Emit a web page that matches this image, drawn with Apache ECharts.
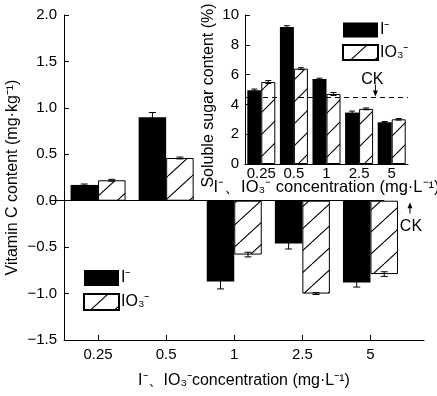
<!DOCTYPE html>
<html><head><meta charset="utf-8">
<script src="https://cdn.jsdelivr.net/npm/echarts@6/dist/echarts.min.js"></script>
<style>html,body{margin:0;padding:0;background:#fff}#c{width:437px;height:396px}</style>
</head><body><div id="c"></div>
<script>
// ---- data ----
const categories = ['0.25', '0.5', '1', '2.5', '5'];
const vcIodide = [0.17, 0.90, -0.87, -0.46, -0.88];
const vcIodideErr = [0.01, 0.05, 0.08, 0.06, 0.05];
const vcIodate = [0.22, 0.46, -0.58, -1.00, -0.79];
const vcIodateErr = [0.01, 0.01, 0.025, 0.01, 0.025];
const sugarIodide = [4.95, 9.2, 5.7, 3.45, 2.8];
const sugarIodideErr = [0.08, 0.08, 0.06, 0.1, 0.05];
const sugarIodate = [5.5, 6.4, 4.7, 3.7, 3.0];
const sugarIodateErr = [0.1, 0.06, 0.1, 0.06, 0.05];
const sugarCK = 4.46;
const vcCK = 0;
const seriesNames = ['I\u207B', 'IO\u2083\u207B'];

const FONT = '"Liberation Sans", Arial, Helvetica, sans-serif';

function hatch(w, h) {
  const c = document.createElement('canvas');
  c.width = w; c.height = h;
  const g = c.getContext('2d');
  g.fillStyle = '#fff'; g.fillRect(0, 0, w, h);
  g.strokeStyle = '#000'; g.lineWidth = 1.1;
  g.beginPath();
  for (let k = 0; k <= 2; k++) {
    g.moveTo((k - 1) * w, h); g.lineTo(k * w, 0);
  }
  g.stroke();
  return { image: c, repeat: 'repeat' };
}
const hatchMain = hatch(24, 22);
const hatchInset = hatch(22, 22);

function errBars(ai, vals, errs, dir, halfW, cap) {
  return {
    type: 'custom', xAxisIndex: ai, yAxisIndex: ai, z: 5, silent: true,
    data: vals.map((v, i) => [i, v, errs[i]]),
    encode: { x: 0, y: 1 },
    renderItem: function (p, api) {
      const i = api.value(0), v = api.value(1), e = api.value(2);
      const t = api.coord([i, v + e]), b = api.coord([i, v - e]);
      const x = t[0] + dir * halfW;
      const st = { stroke: '#000', lineWidth: 1 };
      return { type: 'group', children: [
        { type: 'line', shape: { x1: x, y1: t[1], x2: x, y2: b[1] }, style: st },
        { type: 'line', shape: { x1: x - cap, y1: t[1], x2: x + cap, y2: t[1] }, style: st },
        { type: 'line', shape: { x1: x - cap, y1: b[1], x2: x + cap, y2: b[1] }, style: st }
      ]};
    }
  };
}

const axLine = { show: true, onZero: false, lineStyle: { color: '#000', width: 1 } };
const MAIN_BW = 27.5, INSET_BW = 14;

const option = {
  animation: false,
  backgroundColor: '#fff',
  textStyle: { fontFamily: FONT, color: '#000' },
  grid: [
    { left: 64, top: 15, right: 13, bottom: 56, outerBoundsMode: 'none', containLabel: false },
    { left: 245, top: 15, right: 29, bottom: 232, outerBoundsMode: 'none', containLabel: false }
  ],
  xAxis: [
    {
      type: 'value', gridIndex: 0, min: -0.5, max: 4.786, position: 'bottom',
      axisLine: axLine, splitLine: { show: false },
      axisTick: { show: true, inside: true, length: 5, customValues: [0, 1, 2, 3, 4], lineStyle: { color: '#000' } },
      axisLabel: { customValues: [0, 1, 2, 3, 4], formatter: v => categories[Math.round(v)], margin: 7, fontSize: 15, color: '#000', fontFamily: FONT },
      name: 'I\u207B\u3001IO\u2083\u207Bconcentration (mg\u00B7L\u207B\u00B9)',
      nameLocation: 'middle', nameGap: 33, nameMoveOverlap: false,
      nameTextStyle: { fontSize: 16, color: '#000', fontFamily: FONT }
    },
    {
      type: 'category', gridIndex: 1, data: categories, boundaryGap: true,
      axisLine: axLine, axisTick: { show: false }, splitLine: { show: false },
      axisLabel: { margin: 2, fontSize: 15, color: '#000', fontFamily: FONT, interval: 0 },
      name: 'I\u207B\u3001IO\u2083\u207B concentration (mg\u00B7L\u207B\u00B9)',
      nameLocation: 'middle', nameGap: 15, nameMoveOverlap: false,
      nameTextStyle: { fontSize: 16.5, color: '#000', fontFamily: FONT }
    }
  ],
  yAxis: [
    {
      type: 'value', gridIndex: 0, min: -1.5, max: 2, interval: 0.5,
      axisLine: axLine, splitLine: { show: false },
      axisTick: { show: true, inside: true, length: 5, lineStyle: { color: '#000' } },
      axisLabel: { margin: 7, fontSize: 15, color: '#000', fontFamily: FONT,
        formatter: v => (v < 0 ? '\u2212' : '') + Math.abs(v).toFixed(1) },
      name: 'Vitamin C content (mg\u00B7kg\u207B\u00B9)',
      nameLocation: 'middle', nameGap: 43, nameMoveOverlap: false,
      nameTextStyle: { fontSize: 16, color: '#000', fontFamily: FONT }
    },
    {
      type: 'value', gridIndex: 1, min: 0, max: 10, interval: 2,
      axisLine: axLine, splitLine: { show: false },
      axisTick: { show: true, inside: true, length: 5, lineStyle: { color: '#000' } },
      axisLabel: { margin: 6, fontSize: 15, color: '#000', fontFamily: FONT },
      name: 'Soluble sugar content (%)',
      nameLocation: 'middle', nameGap: 28, nameMoveOverlap: false,
      nameTextStyle: { fontSize: 16, color: '#000', fontFamily: FONT, padding: [0, 12, 0, 0] }
    }
  ],
  legend: [
    {
      data: seriesNames, orient: 'vertical', left: 83, top: 270, itemWidth: 35, itemHeight: 16,
      itemGap: 7, icon: 'rect', padding: 0, selectedMode: false,
      textStyle: { fontSize: 16, color: '#000', fontFamily: FONT, padding: [0, 0, 0, -3] }
    },
    {
      data: seriesNames, orient: 'vertical', left: 342, top: 22, itemWidth: 35, itemHeight: 15,
      itemGap: 6, icon: 'rect', padding: 0, selectedMode: false,
      textStyle: { fontSize: 16, color: '#000', fontFamily: FONT, padding: [0, 0, 0, -3] }
    }
  ],
  series: [
    {
      type: 'bar', name: seriesNames[0], xAxisIndex: 0, yAxisIndex: 0,
      data: vcIodide.map((v, i) => [i, v]), barWidth: MAIN_BW, barGap: '0%',
      itemStyle: { color: '#000', borderColor: '#000', borderWidth: 0 },
      markLine: {
        silent: true, symbol: ['none', 'none'], label: { show: false },
        lineStyle: { color: '#000', width: 1, type: 'solid' },
        data: [[{ coord: [-0.5, vcCK] }, { coord: [4 + MAIN_BW / 68.1, vcCK] }]]
      }
    },
    {
      type: 'bar', name: seriesNames[1], xAxisIndex: 0, yAxisIndex: 0,
      data: vcIodate.map((v, i) => [i, v]), barWidth: MAIN_BW, barGap: '0%',
      itemStyle: { color: hatchMain, borderColor: '#000', borderWidth: 1 }
    },
    {
      type: 'bar', name: seriesNames[0], xAxisIndex: 1, yAxisIndex: 1,
      data: sugarIodide, barWidth: INSET_BW, barGap: '0%',
      itemStyle: { color: '#000', borderWidth: 0 },
      markLine: {
        silent: true, symbol: ['none', 'none'], label: { show: false },
        lineStyle: { color: '#000', width: 1, type: [5, 4] },
        data: [{ yAxis: sugarCK }]
      }
    },
    {
      type: 'bar', name: seriesNames[1], xAxisIndex: 1, yAxisIndex: 1,
      data: sugarIodate, barWidth: INSET_BW, barGap: '0%',
      itemStyle: { color: hatchInset, borderColor: '#000', borderWidth: 1 }
    },
    errBars(0, vcIodide, vcIodideErr, -1, MAIN_BW / 2, 3.5),
    errBars(0, vcIodate, vcIodateErr, 1, MAIN_BW / 2, 3.5),
    errBars(1, sugarIodide, sugarIodideErr, -1, INSET_BW / 2, 3),
    errBars(1, sugarIodate, sugarIodateErr, 1, INSET_BW / 2, 3)
  ]
};

const chart = echarts.init(document.getElementById('c'), null, { renderer: 'canvas' });
chart.setOption(option);

function arrow(x, tailY, tipY) {
  const d = tipY > tailY ? 1 : -1;
  return [
    { type: 'line', shape: { x1: x, y1: tailY, x2: x, y2: tipY - d * 4 }, style: { stroke: '#000', lineWidth: 1 } },
    { type: 'polygon', shape: { points: [[x, tipY], [x - 2.5, tipY - d * 6], [x + 2.5, tipY - d * 6]] }, style: { fill: '#000' } }
  ];
}
const m = chart.convertToPixel({ xAxisIndex: 0, yAxisIndex: 0 }, [4.58, vcCK]);
const a = chart.convertToPixel({ xAxisIndex: 1, yAxisIndex: 1 }, [3, sugarCK]);
const b = chart.convertToPixel({ xAxisIndex: 1, yAxisIndex: 1 }, [4, sugarCK]);
const ix = (a[0] + b[0]) / 2;
chart.setOption({
  graphic: [
    ...arrow(m[0], m[1] + 13, m[1] + 1.5),
    { type: 'text', x: m[0] + 1, y: m[1] + 26, style: { text: 'CK', fill: '#000', font: '16px ' + FONT, align: 'center', verticalAlign: 'middle' } },
    ...arrow(ix, a[1] - 13, a[1] - 1),
    { type: 'text', x: ix - 3, y: a[1] - 18, style: { text: 'CK', fill: '#000', font: '16px ' + FONT, align: 'center', verticalAlign: 'middle' } }
  ]
});
</script></body></html>
